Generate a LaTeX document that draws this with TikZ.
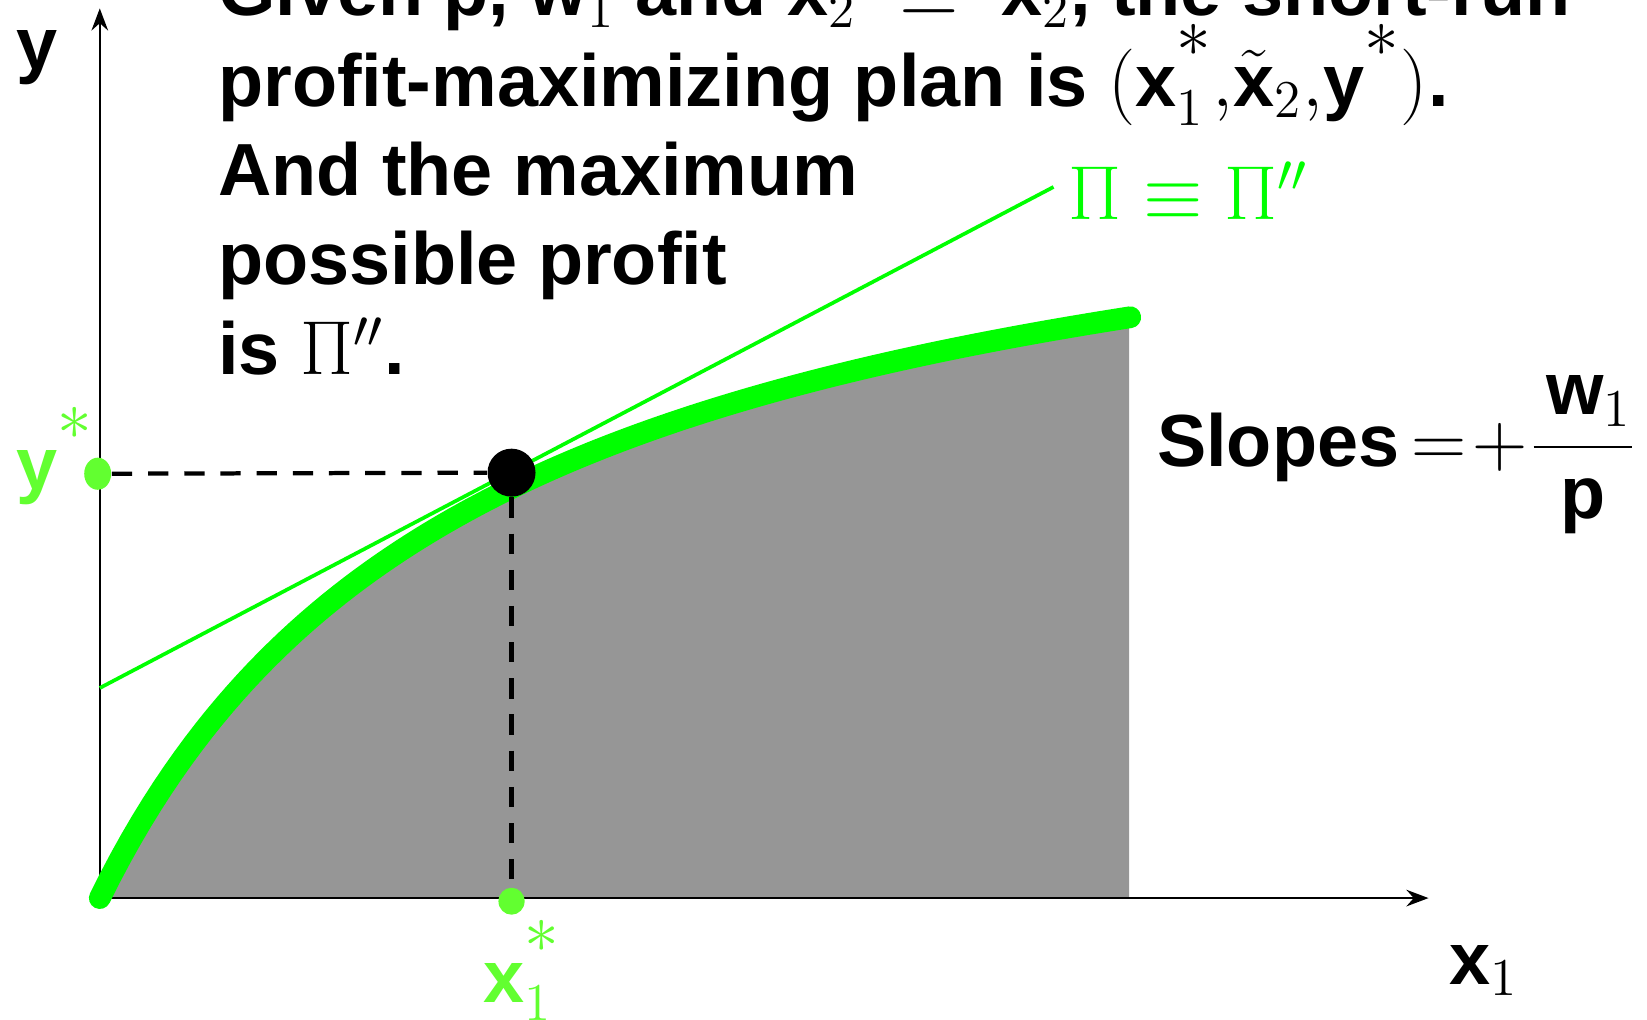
\documentclass[tikz,border=0pt]{standalone}
\usepackage{fontspec}
\usepackage{graphicx}
\setmainfont{Liberation Sans}
\usetikzlibrary{arrows.meta,shapes.geometric}
\definecolor{curvegreen}{RGB}{0,255,0}
\definecolor{stargreen}{RGB}{98,255,48}
\definecolor{techgray}{RGB}{150,150,150}
\newcommand{\vx}{\mbox{x}}
\newcommand{\vy}{\mbox{y}}
\newcommand{\vw}{\mbox{w}}
\newcommand{\vp}{\mbox{p}}
\newcommand{\hst}{\raisebox{0.3em}{\scalebox{1.3}{$\scriptstyle\ast$}}}

\begin{document}
\begin{tikzpicture}[x=0.1mm,y=0.1mm,font=\fontsize{20}{24}\selectfont\bfseries,
  txt/.style={anchor=base west,inner sep=0pt},
  spot/.style={ellipse,fill=stargreen,inner sep=0pt},
  axis/.style={line width=0.6pt,-{Stealth[length=6pt,width=4.5pt,inset=2pt]}}]
\path[use as bounding box] (0,0) rectangle (1568,971);
\coordinate (O) at (95,116);
\coordinate (xend) at (1360,116);
\coordinate (yend) at (95,963);
\coordinate (tanL) at (95,316);
\coordinate (tanR) at (1003,793);
% production function y = f(x1), x2 fixed
\fill[techgray] (O) -- plot[domain=0:980,samples=100] ({95+\x},{116+764.8*(\x/(\x+375.8))}) -- (1075,116) -- cycle;
\draw[axis] (O) -- (xend);
\draw[axis] (O) -- (yend);
\draw[curvegreen,line width=5.9pt,line cap=round] plot[domain=0:981,samples=100] ({95+\x},{116+764.8*(\x/(\x+375.8))});
\draw[curvegreen,line width=1pt] (tanL) -- (tanR);
\node[spot,minimum width=7.3pt,minimum height=8.7pt] (ydot) at (93,520) {};
\node[spot,minimum width=7.1pt,minimum height=7.3pt] (xdot) at (487,113) {};
\node[circle,fill=black,minimum size=13pt,inner sep=0pt] (opt) at (487,521) {};
\draw[line width=1.15pt,dash pattern=on 5.5pt off 4.3pt] (ydot) -- (opt);
\draw[line width=1.15pt,dash pattern=on 5.5pt off 4.3pt] (opt) -- (xdot);
\node[txt] (l1) at (207,956) {Given p, $\vw_1$ and $\vx_2\;\equiv\;\tilde{\vx}_2$, the short-run};
\node[txt] (l2) at (207,870) {profit-maximizing plan is $(\vx_1^{\hst}{,}\tilde{\vx}_2{,}\vy^{\hst})$.};
\node[txt] (l3) at (207,785) {And the maximum};
\node[txt] (l4) at (207,700) {possible profit};
\node[txt] (l5) at (207,614) {is $\Pi''$.};
\node[txt,text=curvegreen] (pilbl) at (1017,762) {$\Pi\equiv\Pi''$};
\node[txt] (slope) at (1101,527) {Slopes\hspace{3.3pt}$=$\hspace{1.6pt}$+$\hspace{0.4pt}$\displaystyle\frac{\,\vw_1}{\vp}$};
\node[anchor=base,inner sep=0pt] (ylbl) at (35,905) {y};
\node[txt] (xlbl) at (1379,34) {$\vx_1$};
\node[txt,text=stargreen] (ystar) at (15,505) {$\vy^{\hst}$};
\node[txt,text=stargreen] (xstar) at (460,17) {$\vx_1^{\hst}$};
\end{tikzpicture}
\end{document}
